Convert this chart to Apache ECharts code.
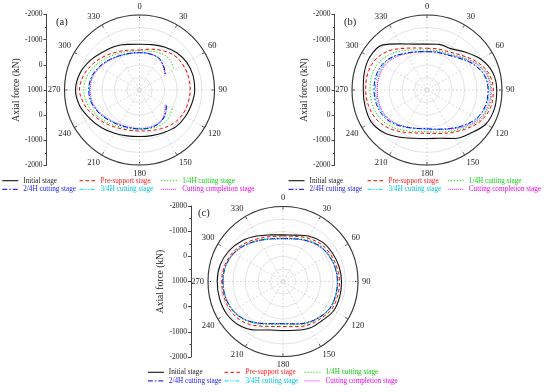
<!DOCTYPE html>
<html>
<head>
<meta charset="utf-8">
<script src="https://cdn.jsdelivr.net/npm/echarts@6/dist/echarts.min.js"></script>
<style>
html,body{margin:0;padding:0;background:#fff;}
#chart{width:550px;height:392px;}
</style>
</head>
<body>
<div id="chart"></div>
<script>
// ---------- data ----------
const seriesNames = ['Initial stage','Pre-support stage','1/4H cutting stage','2/4H cutting stage','3/4H cutting stage','Cutting completion stage'];
const leftTickLabels = ['-2000','-1000','0','1000','0','-1000','-2000'];
const panelLabels = ['(a)','(b)','(c)'];

// closed loops: angle (deg)
const anglesFull = [0,15,30,45,60,75,90,105,120,135,150,165,180,195,210,225,240,255,270,285,300,315,330,345,360];
// open arcs in panel (a): from 120 deg round the left side to 60 deg
const anglesOpenA = [120,135,150,165,180,195,210,225,240,255,270,285,300,315,330,345,360,15,30,45,60];

// panel (a) axial force (kN)
const a_initial = [-830,-880,-990,-1110,-1190,-1220,-1210,-1160,-1120,-1070,-960,-890,-860,-900,-1000,-1140,-1290,-1470,-1560,-1480,-1310,-1120,-1010,-890,-830];
const a_presupport = [-600,-690,-820,-960,-1010,-1030,-1030,-1010,-980,-900,-780,-680,-640,-660,-750,-900,-1080,-1280,-1400,-1310,-1130,-930,-760,-650,-600];
const a_quarter = [-520,-620,-640,-600,-570,-600,-690,-830,-1000,-1160,-1230,-1170,-1010,-830,-690,-600,-570,-610,-700,-720,-590];
const a_half = [-240,-430,-545,-570,-560,-565,-615,-720,-860,-990,-1030,-990,-860,-710,-590,-520,-490,-500,-500,-360,-200];
const a_threeQuarter = [-260,-450,-550,-560,-550,-555,-600,-700,-840,-960,-1000,-960,-840,-700,-580,-510,-490,-500,-490,-350,-220];
const a_completion = [-180,-400,-530,-550,-540,-545,-585,-680,-820,-940,-970,-940,-820,-680,-570,-510,-500,-510,-480,-330,-170];

// panel (b)
const b_initial = [-840,-890,-910,-1150,-1480,-1720,-1790,-1800,-1720,-1450,-1240,-1000,-940,-1000,-1180,-1420,-1570,-1560,-1550,-1600,-1640,-1540,-1130,-900,-840];
const b_presupport = [-668,-700,-760,-960,-1280,-1560,-1652,-1640,-1480,-1200,-960,-800,-732,-780,-940,-1160,-1340,-1420,-1452,-1460,-1400,-1200,-920,-740,-668];
const b_quarter = [-600,-632,-692,-892,-1220,-1500,-1588,-1572,-1420,-1140,-900,-740,-668,-712,-860,-1060,-1200,-1260,-1280,-1280,-1220,-1040,-820,-660,-600];
const b_half = [-532,-560,-620,-800,-1100,-1360,-1440,-1420,-1280,-1020,-780,-620,-552,-592,-720,-900,-1040,-1100,-1120,-1120,-1060,-900,-700,-580,-532];
const b_threeQuarter = [-540,-570,-630,-820,-1130,-1390,-1470,-1450,-1310,-1040,-790,-630,-560,-590,-700,-860,-990,-1040,-1060,-1060,-1010,-870,-690,-580,-540];
const b_completion = [-540,-575,-640,-850,-1180,-1460,-1550,-1530,-1370,-1080,-810,-640,-570,-590,-690,-840,-950,-990,-990,-990,-950,-830,-670,-575,-540];

// panel (c)
const c_initial = [-870,-920,-1090,-1230,-1280,-1320,-1340,-1350,-1340,-1210,-1150,-1020,-960,-1010,-1240,-1480,-1600,-1630,-1630,-1600,-1480,-1310,-1100,-930,-870];
const c_presupport = [-820,-870,-1000,-1130,-1190,-1230,-1260,-1260,-1240,-1110,-1010,-870,-800,-860,-1050,-1270,-1400,-1440,-1450,-1420,-1320,-1160,-980,-860,-820];
const c_quarter = [-740,-790,-920,-1060,-1130,-1180,-1200,-1200,-1180,-1060,-940,-790,-720,-780,-960,-1180,-1330,-1390,-1400,-1380,-1280,-1110,-920,-790,-740];
const c_half = [-720,-770,-890,-1030,-1110,-1160,-1180,-1180,-1160,-1040,-910,-760,-690,-750,-930,-1160,-1320,-1390,-1410,-1380,-1270,-1090,-900,-770,-720];
const c_threeQuarter = [-710,-760,-880,-1020,-1100,-1150,-1170,-1170,-1150,-1030,-900,-750,-685,-745,-920,-1150,-1310,-1380,-1400,-1370,-1260,-1080,-890,-760,-710];
const c_completion = [-700,-755,-875,-1015,-1100,-1150,-1175,-1175,-1150,-1025,-895,-745,-680,-740,-915,-1140,-1300,-1370,-1390,-1365,-1255,-1075,-885,-755,-700];

// ---------- styling ----------
const FONT = '"Liberation Serif","Times New Roman",serif';
const colors = ['#111111','#ff0000','#00e000','#0000ff','#00d8f0','#ff00ff'];
const textColors = ['#222222','#ff2020','#10d010','#2020ff','#00c8e0','#f000f0'];
const dashes = ['solid',[3.5,2.5],[1.2,1.8],[5,2,1.5,2],[4,1.5,1.2,1.5,1.2,1.5],[1,1]];
const widths = [1.1,1,1,1,1,1];

const panels = [
  {center:[139.5,90], axisX:46.5, axisTop:14.5, label:[56,22.5],
   legendCols:[22.7,100,181.7], legendTop:176.4,
   data:[[a_initial,anglesFull],[a_presupport,anglesFull],[a_quarter,anglesOpenA],[a_half,anglesOpenA],[a_threeQuarter,anglesOpenA],[a_completion,anglesOpenA]]},
  {center:[427,90], axisX:334.5, axisTop:14.5, label:[344,22.5],
   legendCols:[309,388,468.3], legendTop:176.4,
   data:[[b_initial,anglesFull],[b_presupport,anglesFull],[b_quarter,anglesFull],[b_half,anglesFull],[b_threeQuarter,anglesFull],[b_completion,anglesFull]]},
  {center:[283,281.5], axisX:191, axisTop:206, label:[198,214],
   legendCols:[168.3,245,325], legendTop:368,
   data:[[c_initial,anglesFull],[c_presupport,anglesFull],[c_quarter,anglesFull],[c_half,anglesFull],[c_threeQuarter,anglesFull],[c_completion,anglesFull]]}
];
const R = 75;

const option = {
  animation:false,
  backgroundColor:'#fff',
  polar:[], angleAxis:[], radiusAxis:[], grid:[], xAxis:[], yAxis:[], legend:[], series:[], graphic:[]
};

panels.forEach((p,pi)=>{
  option.polar.push({center:p.center, radius:R});
  option.angleAxis.push({
    polarIndex:pi, type:'value', min:0, max:360, interval:30, startAngle:90, clockwise:true,
    axisLine:{show:true, lineStyle:{color:'#333', width:1.1}},
    axisTick:{show:true, inside:true, length:3, lineStyle:{color:'#333'}},
    axisLabel:{margin:4, fontSize:8.5, fontFamily:FONT, color:'#222'},
    splitLine:{show:true, lineStyle:{color:'#cfcfcf', width:0.8, type:[2,2]}}
  });
  option.radiusAxis.push({
    polarIndex:pi, type:'value', min:-2000, max:1000, interval:500, inverse:true,
    axisLine:{show:false}, axisTick:{show:false}, axisLabel:{show:false},
    splitLine:{show:true, lineStyle:{color:'#dcdcdc', width:0.8}}
  });
  option.grid.push({left:p.axisX, top:p.axisTop, width:2, height:2*R+1, containLabel:false});
  option.xAxis.push({gridIndex:pi, type:'value', show:false});
  option.yAxis.push({
    gridIndex:pi, type:'value', min:-3000, max:3000, interval:1000,
    axisLine:{show:true, lineStyle:{color:'#444', width:1}},
    axisTick:{show:true, inside:false, length:3, lineStyle:{color:'#444'}},
    minorTick:{show:true, splitNumber:2, length:1.5, lineStyle:{color:'#444'}},
    splitLine:{show:false},
    axisLabel:{margin:4, fontSize:7.5, fontFamily:FONT, color:'#222',
      formatter:(v)=>leftTickLabels[Math.round((v+3000)/1000)]},
    name:'Axial force (kN)', nameLocation:'middle', nameGap:21, nameRotate:90,
    nameTextStyle:{fontSize:9.5, fontFamily:FONT, color:'#222'}
  });
  // legends: three columns of two rows
  const cols = [[0,3],[1,4],[2,5]];
  cols.forEach((c,ci)=>{
    option.legend.push({
      orient:'vertical', left:p.legendCols[ci]-21, top:p.legendTop, padding:0,
      itemWidth:16, itemHeight:6, itemGap:0,
      itemStyle:{opacity:0, borderWidth:0},
      textStyle:{fontSize:7.2, fontFamily:FONT, lineHeight:8.6},
      data:c.map(k=>({name:seriesNames[k], textStyle:{color:textColors[k]},
        lineStyle:{color:colors[k], width:widths[k], type:dashes[k]}}))
    });
  });
  p.data.forEach((d,si)=>{
    const vals = d[0], angs = d[1];
    option.series.push({
      name:seriesNames[si], type:'line', coordinateSystem:'polar', polarIndex:pi,
      data: vals.map((v,i)=>[v, angs[i]]),
      symbol:'none', smooth:0.35, color:colors[si],
      lineStyle:{color:colors[si], width:widths[si], type:dashes[si]},
      z: 10 - si
    });
  });
  option.graphic.push({type:'text', left:p.label[0], top:p.label[1]-6,
    style:{text:panelLabels[pi], fontSize:10.5, fontFamily:FONT, fill:'#222'}});
});

const chart = echarts.init(document.getElementById('chart'), null, {renderer:'canvas'});
chart.setOption(option);
</script>
</body>
</html>
